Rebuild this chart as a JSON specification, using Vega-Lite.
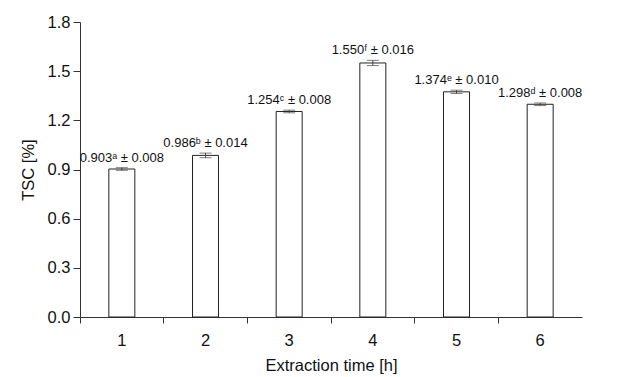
{
  "$schema": "https://vega.github.io/schema/vega-lite/v6.json",
  "autosize": "none",
  "width": 502,
  "height": 295,
  "padding": {"left": 80, "top": 22, "right": 51, "bottom": 60},
  "background": "white",
  "config": {
    "view": {"stroke": null},
    "font": "Liberation Sans",
    "axis": {"domainColor": "#333", "tickColor": "#333", "labelColor": "#111", "titleColor": "#111", "grid": false, "labelFont": "Liberation Sans", "titleFont": "Liberation Sans", "titleFontWeight": "normal"}
  },
  "data": {
    "values": [
      {"t": "1", "v": 0.903, "e": 0.008, "lbl": "0.903ᵃ ± 0.008"},
      {"t": "2", "v": 0.986, "e": 0.014, "lbl": "0.986ᵇ ± 0.014"},
      {"t": "3", "v": 1.254, "e": 0.008, "lbl": "1.254ᶜ ± 0.008"},
      {"t": "4", "v": 1.550, "e": 0.016, "lbl": "1.550ᶠ ± 0.016"},
      {"t": "5", "v": 1.374, "e": 0.010, "lbl": "1.374ᵉ ± 0.010"},
      {"t": "6", "v": 1.298, "e": 0.008, "lbl": "1.298ᵈ ± 0.008"}
    ]
  },
  "transform": [
    {"calculate": "datum.v - datum.e", "as": "lo"},
    {"calculate": "datum.v + datum.e", "as": "hi"}
  ],
  "encoding": {
    "x": {
      "field": "t", "type": "ordinal",
      "scale": {"paddingInner": 0, "paddingOuter": 0},
      "axis": {"title": "Extraction time [h]", "labelAngle": 0, "labelFontSize": 16.5, "titleFontSize": 16.5, "tickSize": 6, "bandPosition": 0, "labelPadding": 9, "titlePadding": 9, "domainColor": "#333"}
    }
  },
  "layer": [
    {
      "mark": {"type": "bar", "width": 26, "fill": "white", "stroke": "#222", "strokeWidth": 1},
      "encoding": {
        "y": {"field": "v", "type": "quantitative",
          "scale": {"domain": [0, 1.8], "nice": false},
          "axis": {"title": "TSC [%]", "values": [0, 0.3, 0.6, 0.9, 1.2, 1.5, 1.8], "format": ".1f", "labelFontSize": 16.5, "titleFontSize": 16.5, "tickSize": 7, "labelPadding": 3, "titlePadding": 11}}
      }
    },
    {
      "mark": {"type": "rule", "color": "#444", "strokeWidth": 1},
      "encoding": {"y": {"field": "lo", "type": "quantitative"}, "y2": {"field": "hi"}}
    },
    {
      "mark": {"type": "tick", "color": "#444", "thickness": 1, "size": 12},
      "encoding": {"y": {"field": "lo", "type": "quantitative"}}
    },
    {
      "mark": {"type": "tick", "color": "#444", "thickness": 1, "size": 12},
      "encoding": {"y": {"field": "hi", "type": "quantitative"}}
    },
    {
      "mark": {"type": "text", "fontSize": 13, "baseline": "alphabetic", "dy": -6, "color": "#111"},
      "encoding": {"y": {"field": "hi", "type": "quantitative"}, "text": {"field": "lbl"}}
    }
  ]
}
